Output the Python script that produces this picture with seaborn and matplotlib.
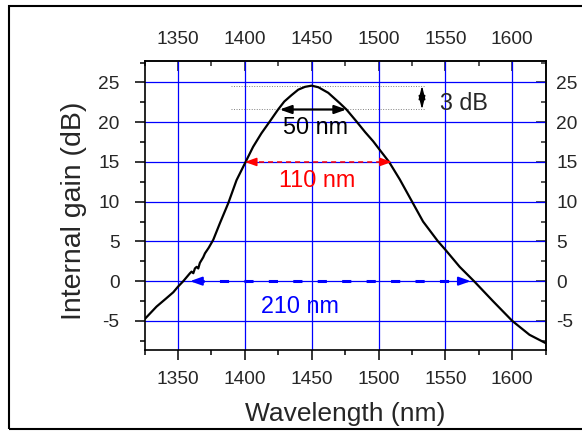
import matplotlib
matplotlib.use("Agg")
import matplotlib.pyplot as plt
from matplotlib.patches import Rectangle
from matplotlib.ticker import MultipleLocator
import pandas as pd
import seaborn as sns

# Gain spectrum of the amplifier
wavelength = [1325, 1334, 1341, 1346.5, 1350, 1354, 1356.5, 1359, 1360.2, 1361.5,
              1362.7, 1364, 1365.2, 1366.4, 1368.9, 1370.2, 1373, 1376.4, 1381.4,
              1387.6, 1393.8, 1400, 1406.2, 1412.4, 1418.7, 1424.9, 1429.5,
              1434.9, 1440, 1445, 1450, 1455, 1462.4, 1471, 1476, 1483.5, 1490,
              1496, 1501, 1507.9, 1515.9, 1525.1, 1533.3, 1544.5, 1550, 1560.7,
              1571.4, 1585.5, 1600, 1612.9, 1625]
gain = [-4.8, -3.2, -2.2, -1.4, -0.7, 0.0, 0.5, 1.0, 1.2, 1.0,
        1.6, 1.8, 1.6, 2.3, 3.0, 3.5, 4.2, 5.2, 7.3,
        9.8, 12.7, 14.8, 16.9, 18.6, 20.1, 21.6, 22.6,
        23.4, 24.1, 24.45, 24.6, 24.4, 23.7, 22.4, 21.6, 20.1, 18.75,
        17.6, 16.5, 15.0, 12.8, 10.0, 7.5, 5.0, 3.95, 1.8,
        0.0, -2.5, -5.0, -6.75, -7.8]

# Bandwidth markers: level (dB), start (nm), width (nm), label, colour
band_levels = [21.6, 15.0, 0.0]
band_starts = [1426, 1400, 1359]
band_widths = [50, 110, 210]
band_labels = ["50 nm", "110 nm", "210 nm"]
band_colors = ["black", "red", "blue"]
band_label_x = [1453, 1454, 1441.4]
band_label_y = [18.5, 11.9, -3.95]

peak_gain = 24.6
drop_db = 3

x_ticks = [1350, 1400, 1450, 1500, 1550, 1600]
y_ticks = [-5, 0, 5, 10, 15, 20, 25]

sns.set_style("white")
plt.rcParams["font.family"] = ["Liberation Sans", "DejaVu Sans"]
plt.rcParams["axes.unicode_minus"] = False

fig = plt.figure(figsize=(5.82, 4.34), dpi=100)
ax = fig.add_axes([0.2483, 0.1947, 0.6893, 0.6647])

df = pd.DataFrame({"Wavelength": wavelength, "Gain": gain})
sns.lineplot(data=df, x="Wavelength", y="Gain", color="black", lw=1.6,
             estimator=None, ax=ax, zorder=5)

ax.set_xlim(1325, 1625)
ax.set_ylim(-8.6, 27.7)
ax.set_xticks(x_ticks)
ax.set_yticks(y_ticks)
ax.xaxis.set_minor_locator(MultipleLocator(25))
ax.yaxis.set_minor_locator(MultipleLocator(2.5))
ax.grid(True, which="major", color="blue", lw=0.9)
ax.set_axisbelow(True)

for s in ax.spines.values():
    s.set_color("black")
    s.set_linewidth(1.2)

tick_fs = 13.8
ax.tick_params(axis="x", which="both", direction="out", labelsize=tick_fs, pad=8.5,
               width=1.1, color="black", bottom=True)
ax.tick_params(axis="y", which="both", direction="out", labelsize=tick_fs, pad=11,
               width=1.1, color="black", left=True)
ax.tick_params(which="major", length=7)
ax.tick_params(which="minor", length=3.7)

# Mirrored axes on top and right with inward ticks
top = ax.secondary_xaxis("top")
top.set_xticks(x_ticks)
top.xaxis.set_minor_locator(MultipleLocator(25))
top.tick_params(which="both", direction="in", labelsize=tick_fs, pad=9.4, width=1.1)
top.tick_params(which="major", length=7)
top.tick_params(which="minor", length=3.7)
top.spines["top"].set_linewidth(1.2)

right = ax.secondary_yaxis("right")
right.set_yticks(y_ticks)
right.yaxis.set_minor_locator(MultipleLocator(2.5))
right.tick_params(which="both", direction="in", labelsize=tick_fs, pad=7.5, width=1.1)
right.tick_params(which="major", length=7)
right.tick_params(which="minor", length=3.7)
right.spines["right"].set_linewidth(1.2)

ax.set_xlabel("Wavelength (nm)", fontsize=19)
ax.xaxis.set_label_coords(0.5, -0.183)
ax.set_ylabel("Internal gain (dB)", fontsize=20.5)
ax.yaxis.set_label_coords(-0.1446, 0.48)


def head(x_tip, x_from, y, color, lw):
    ax.annotate("", xy=(x_tip, y), xytext=(x_from, y),
                arrowprops=dict(arrowstyle="-|>,head_length=0.7,head_width=0.25",
                                color=color, lw=lw, mutation_scale=10,
                                shrinkA=0, shrinkB=0), zorder=6)


# 3 dB reference lines
for lvl in (peak_gain, peak_gain - drop_db):
    ax.plot([1390, 1535], [lvl, lvl], color="#808080", lw=0.7,
            linestyle=(0, (1, 1.6)), zorder=4)
ax.annotate("", xy=(1532.5, peak_gain - drop_db), xytext=(1532.5, peak_gain),
            arrowprops=dict(arrowstyle="<|-|>,head_length=0.8,head_width=0.2",
                            color="black", lw=1, mutation_scale=10,
                            shrinkA=0, shrinkB=0), zorder=6)
ax.text(1545.8, 21.56, f"{drop_db} dB", fontsize=16.8, ha="left", va="baseline")

# Bandwidth arrows
for lvl, x0, w, lab, c, tx, ty in zip(band_levels, band_starts, band_widths,
                                      band_labels, band_colors, band_label_x,
                                      band_label_y):
    x1 = x0 + w
    if c == "black":
        ax.annotate("", xy=(x1, lvl), xytext=(x0, lvl),
                    arrowprops=dict(arrowstyle="<|-|>,head_length=0.7,head_width=0.25",
                                    color=c, lw=1.6, mutation_scale=10,
                                    shrinkA=0, shrinkB=0), zorder=6)
    elif c == "red":
        ax.plot([x0 + 4, x1 - 4], [lvl, lvl], color=c, lw=1.1,
                linestyle=(0, (3.3, 2.6)), zorder=6)
        head(x0, x0 + 5, lvl, c, 1.1)
        head(x1, x1 - 5, lvl, c, 1.1)
    else:
        ax.plot([x0 + 4, x1 - 4], [lvl, lvl], color=c, lw=2.2,
                linestyle=(0, (3.0, 5.0)), zorder=6)
        head(x0, x0 + 5, lvl, c, 1.5)
        head(x1, x1 - 5, lvl, c, 1.5)
    ax.text(tx, ty, lab, color=c, fontsize=16.8, ha="center", va="baseline", zorder=7)

# Frame around the figure
fig.patches.append(Rectangle((0.016, 0.0115), 1.0, 0.9747, transform=fig.transFigure,
                             fill=False, edgecolor="black", lw=1.5))

fig.savefig("out.png", dpi=100)
